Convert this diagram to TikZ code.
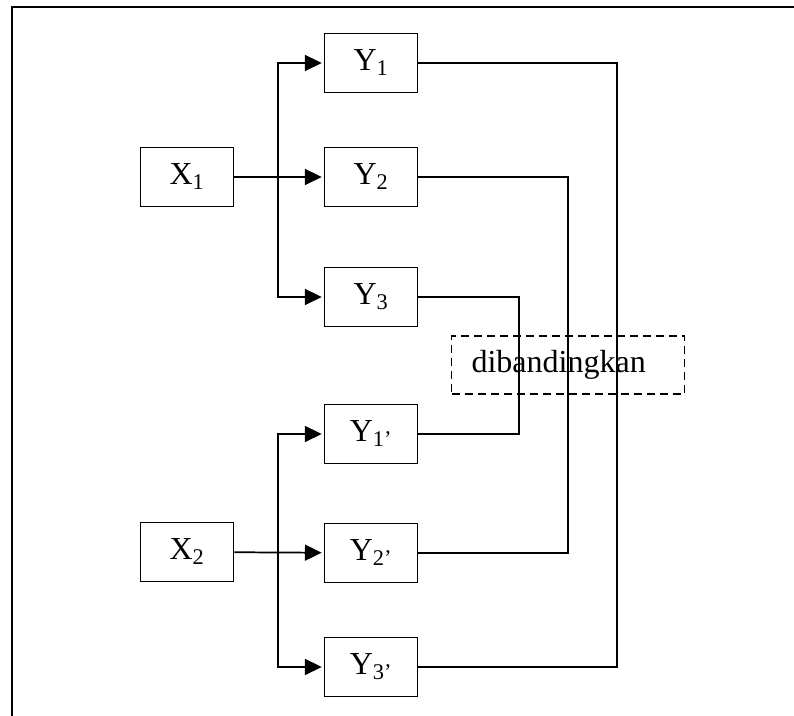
\documentclass[tikz,border=0pt]{standalone}
\usepackage{fontspec}
\setmainfont{Liberation Serif}
\usetikzlibrary{arrows.meta}
\begin{document}
\begin{tikzpicture}[x=0.75pt, y=-0.75pt, line width=1.3pt,
    box/.style={draw, minimum width=69.75pt, minimum height=44.25pt, font=\fontsize{24}{28}\selectfont},
    arr/.style={-{Triangle[length=12.5pt,width=12pt]}, shorten >=1.5pt},
    cmp/.style={draw, dashed, dash pattern=on 6pt off 3.75pt, line width=1.1pt, minimum width=174.75pt, minimum height=43.5pt, font=\fontsize{24}{28}\selectfont}]
    \useasboundingbox (0,0) rectangle (794,716);
    \draw [line width=1.7pt] (794,7) -- (12,7) -- (12,716);
    \node [box] (x1) at (187, 177) {X\textsubscript{1}};
    \node [box] (x2) at (187, 552) {X\textsubscript{2}};
    \node [box] (y1) at (371, 63) {Y\textsubscript{1}};
    \node [box] (y2) at (371, 177) {Y\textsubscript{2}};
    \node [box] (y3) at (371, 297) {Y\textsubscript{3}};
    \node [box] (y1b) at (371, 434) {Y\textsubscript{1’}};
    \node [box] (y2b) at (371, 553) {Y\textsubscript{2’}};
    \node [box] (y3b) at (371, 667) {Y\textsubscript{3’}};
    \node [cmp, inner xsep=8pt] (cmp) at (568, 365) {dibandingkan\kern14pt};
    \coordinate (s1) at (278, 177);
    \coordinate (s2) at (278, 552);
    \coordinate (r1) at (617, 667);
    \coordinate (r2) at (568, 553);
    \coordinate (r3) at (519, 434);
    \draw [arr] (x1) -- (y2);
    \draw [arr] (s1) |- (y1);
    \draw [arr] (s1) |- (y3);
    \draw [arr] (x2) -- (y2b);
    \draw [arr] (s2) |- (y1b);
    \draw [arr] (s2) |- (y3b);
    \draw (y1) -| (r1) -- (y3b);
    \draw (y2) -| (r2) -- (y2b);
    \draw (y3) -| (r3) -- (y1b);
\end{tikzpicture}
\end{document}
